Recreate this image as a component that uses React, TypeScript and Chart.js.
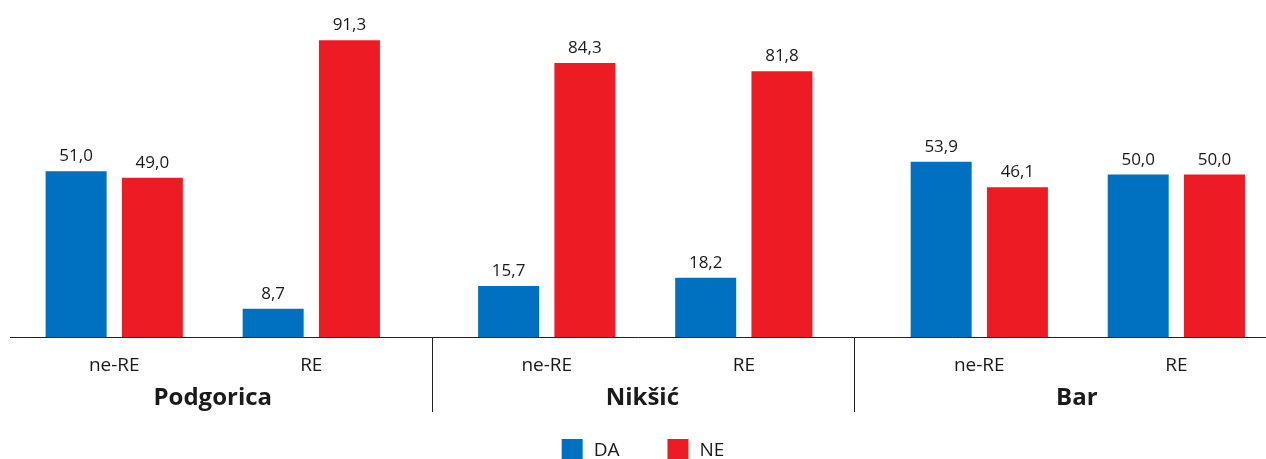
import React, { useEffect, useRef } from 'react';
import { Chart, registerables } from 'chart.js';

Chart.register(...registerables);

// ---- data ----
const subCategories = ['ne-RE', 'RE', 'ne-RE', 'RE', 'ne-RE', 'RE'];
const cities = ['Podgorica', 'Nikšić', 'Bar'];
const seriesNames = ['DA', 'NE'];
const seriesDA = [51.0, 8.7, 15.7, 18.2, 53.9, 50.0];
const seriesNE = [49.0, 91.3, 84.3, 81.8, 46.1, 50.0];

// ---- layout (positions along the category axis, in category units) ----
const categoryPositions = [0, 1, 2.195, 3.195, 4.39, 5.39];
const cityPositions = [0.5, 2.68, 4.885];
const separatorPositions = [1.614, 3.756];
const X_MIN = -0.529;
const X_MAX = 5.845;

const BLUE = '#0070C0';
const RED = '#ED1C24';
const TEXT = '#1a1a1a';
const FONT = "'Open Sans', sans-serif";

const fmt = (v: number) => v.toFixed(1).replace('.', ',');

const valueLabels = {
  id: 'valueLabels',
  afterDatasetsDraw(chart: any) {
    const ctx = chart.ctx;
    ctx.save();
    ctx.font = `17px ${FONT}`;
    ctx.fillStyle = TEXT;
    ctx.textAlign = 'center';
    ctx.textBaseline = 'alphabetic';
    chart.data.datasets.forEach((ds: any, i: number) => {
      const meta = chart.getDatasetMeta(i);
      meta.data.forEach((bar: any, j: number) => {
        ctx.fillText(fmt(ds.data[j].y), bar.x, bar.y - 10);
      });
    });
    ctx.restore();
  },
};

const separators = {
  id: 'separators',
  afterDraw(chart: any) {
    const ctx = chart.ctx;
    const xs = chart.scales.x;
    const top = chart.chartArea.bottom;
    const bottom = chart.scales.x2.bottom;
    ctx.save();
    ctx.strokeStyle = '#222';
    ctx.lineWidth = 1;
    separatorPositions.forEach((p) => {
      const px = Math.round(xs.getPixelForValue(p)) + 0.5;
      ctx.beginPath();
      ctx.moveTo(px, top);
      ctx.lineTo(px, bottom);
      ctx.stroke();
    });
    ctx.restore();
  },
};

const customLegend = {
  id: 'customLegend',
  afterDraw(chart: any) {
    const ctx = chart.ctx;
    const box = 21;
    const textGap = 11;
    const itemGap = 48;
    ctx.save();
    ctx.font = `19px ${FONT}`;
    const items = chart.data.datasets.map((ds: any) => ({
      label: ds.label,
      color: ds.backgroundColor,
      w: ctx.measureText(ds.label).width,
    }));
    const total =
      items.reduce((s: number, it: any) => s + box + textGap + it.w, 0) + itemGap * (items.length - 1);
    const center = (chart.chartArea.left + chart.chartArea.right) / 2 + 5;
    let x = center - total / 2;
    const top = chart.scales.x2.bottom + 27;
    items.forEach((it: any) => {
      ctx.fillStyle = it.color;
      ctx.fillRect(x, top, box, box);
      ctx.fillStyle = TEXT;
      ctx.textAlign = 'left';
      ctx.textBaseline = 'middle';
      ctx.fillText(it.label, x + box + textGap, top + box / 2 + 1);
      x += box + textGap + it.w + itemGap;
    });
    ctx.restore();
  },
};

export default function App() {
  const canvasRef = useRef<HTMLCanvasElement | null>(null);

  useEffect(() => {
    document.body.style.margin = '0';
    document.body.style.overflow = 'hidden';
    const canvas = canvasRef.current;
    if (!canvas) return;
    Chart.defaults.font.family = FONT;
    Chart.defaults.color = TEXT;

    const chart = new Chart(canvas, {
      type: 'bar',
      data: {
        datasets: [
          {
            label: seriesNames[0],
            data: categoryPositions.map((x, i) => ({ x, y: seriesDA[i] })),
            backgroundColor: BLUE,
            xAxisID: 'x',
            yAxisID: 'y',
            categoryPercentage: 0.774,
            barPercentage: 0.8,
          },
          {
            label: seriesNames[1],
            data: categoryPositions.map((x, i) => ({ x, y: seriesNE[i] })),
            backgroundColor: RED,
            xAxisID: 'x',
            yAxisID: 'y',
            categoryPercentage: 0.774,
            barPercentage: 0.8,
          },
        ] as any,
      },
      options: {
        animation: false,
        responsive: false,
        layout: { padding: { top: 12, left: 10, right: 0, bottom: 47 } },
        plugins: {
          legend: { display: false },
          tooltip: { enabled: false },
        },
        scales: {
          x: {
            type: 'linear',
            position: 'bottom',
            min: X_MIN,
            max: X_MAX,
            bounds: 'data',
            offset: false,
            grid: { display: false, drawTicks: false },
            border: { display: true, color: '#222', width: 1 },
            afterBuildTicks: (axis: any) => {
              axis.ticks = categoryPositions.map((v) => ({ value: v }));
            },
            afterFit: (axis: any) => {
              axis.height = 40;
            },
            ticks: {
              autoSkip: false,
              maxRotation: 0,
              minRotation: 0,
              padding: 17,
              color: TEXT,
              font: { size: 19, family: FONT },
              callback: (_v: any, i: number) => subCategories[i],
            },
          },
          x2: {
            type: 'linear',
            position: 'bottom',
            min: X_MIN,
            max: X_MAX,
            bounds: 'data',
            offset: false,
            grid: { display: false, drawTicks: false },
            border: { display: false },
            afterBuildTicks: (axis: any) => {
              axis.ticks = cityPositions.map((v) => ({ value: v }));
            },
            afterFit: (axis: any) => {
              axis.height = 35;
            },
            ticks: {
              autoSkip: false,
              maxRotation: 0,
              minRotation: 0,
              padding: 7,
              color: TEXT,
              font: { size: 24, weight: 'bold', family: FONT },
              callback: (_v: any, i: number) => cities[i],
            },
          },
          y: {
            display: false,
            min: 0,
            max: 100,
          },
        },
      } as any,
      plugins: [valueLabels, separators, customLegend],
    });

    return () => chart.destroy();
  }, []);

  return <canvas ref={canvasRef} width={1266} height={459} style={{ display: 'block' }} />;
}
